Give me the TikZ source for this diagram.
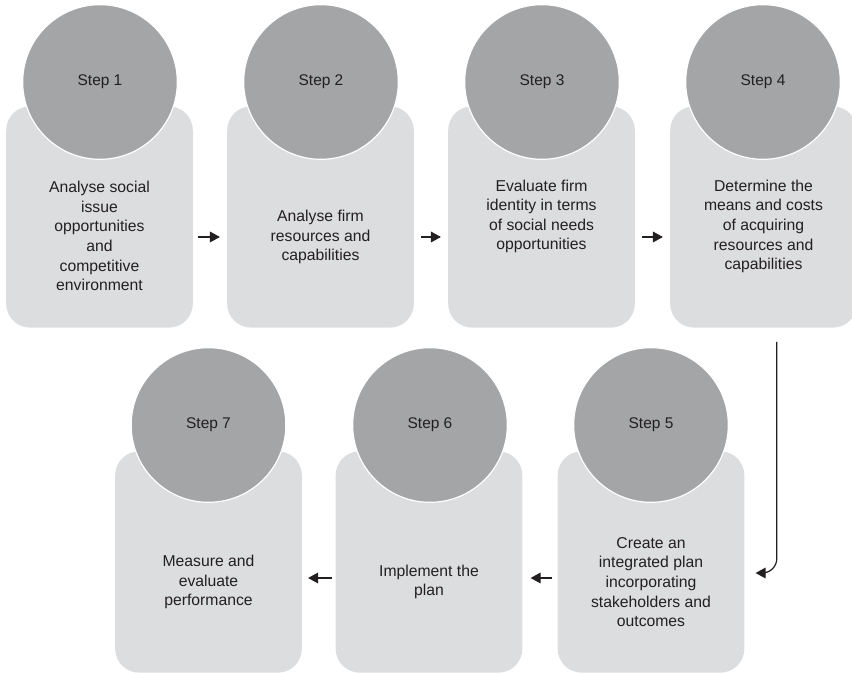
\documentclass[tikz,border=0pt]{standalone}
\usepackage{fontspec}
\setmainfont{Liberation Sans}
\usetikzlibrary{arrows.meta}

\definecolor{stepgray}{HTML}{A3A5A7}
\definecolor{boxgray}{HTML}{DCDDDF}
\definecolor{inkgray}{HTML}{231F20}

\tikzset{
  stepbox/.style={rectangle,rounded corners=18pt,fill=boxgray,minimum width=140pt,minimum height=166pt,inner sep=0pt},
  stepdisc/.style={circle,fill=stepgray,draw=white,line width=0.9pt,minimum size=116pt,inner sep=0pt,text=inkgray,font=\fontsize{11.6}{13}\selectfont},
  steptext/.style={text=inkgray,align=center,font=\fontsize{11.8}{14.7}\selectfont},
  flow/.style={draw=inkgray,line width=0.9pt,-{Triangle[length=7.5pt,width=8pt]}}
}

\begin{document}
\begin{tikzpicture}[x=0.75pt,y=-0.75pt]
\useasboundingbox (0,0) rectangle (852,673);

% boxes:
\path (99.5,217) node[stepbox] (b1) {};
\path (320.5,217) node[stepbox] (b2) {};
\path (541.5,217) node[stepbox] (b3) {};
\path (763.5,217) node[stepbox] (b4) {};
\path (651,562) node[stepbox] (b5) {};
\path (429,562) node[stepbox] (b6) {};
\path (208.5,562) node[stepbox] (b7) {};

% discs on top:
\path (100,82) node[stepdisc] (c1) {Step 1};
\path (321,82) node[stepdisc] (c2) {Step 2};
\path (542,82) node[stepdisc] (c3) {Step 3};
\path (763,82) node[stepdisc] (c4) {Step 4};
\path (651,425) node[stepdisc] (c5) {Step 5};
\path (430,425) node[stepdisc] (c6) {Step 6};
\path (208.5,425) node[stepdisc] (c7) {Step 7};

% texts:
\path (99.5,236) node[steptext] (t1) {Analyse social\\issue\\opportunities\\and\\competitive\\environment};
\path (320.5,237) node[steptext] (t2) {Analyse firm\\resources and\\capabilities};
\path (541.5,216.5) node[steptext] (t3) {Evaluate firm\\identity in terms\\of social needs\\opportunities};
\path (763.5,226.5) node[steptext] (t4) {Determine the\\means and costs\\of acquiring\\resources and\\capabilities};
\path (651,582) node[steptext] (t5) {Create an\\integrated plan\\incorporating\\stakeholders and\\outcomes};
\path (429,582) node[steptext] (t6) {Implement the\\plan};
\path (208.5,582) node[steptext] (t7) {Measure and\\evaluate\\performance};

% arrows:
\draw[flow] ([xshift=3.75pt,yshift=-15pt]b1.east) -- ([xshift=-5.25pt,yshift=-15pt]b2.west);
\draw[flow] ([xshift=5pt,yshift=-15pt]b2.east) -- ([xshift=-5.25pt,yshift=-15pt]b3.west);
\draw[flow] ([xshift=5pt,yshift=-15pt]b3.east) -- ([xshift=-5.25pt,yshift=-15pt]b4.west);
\draw[flow,rounded corners=11pt] ([xshift=10pt,yshift=-10.5pt]b4.south) |- ([xshift=8.25pt,yshift=-8.25pt]b5.east);
\draw[flow] ([xshift=-3.75pt,yshift=-12pt]b5.west) -- ([xshift=6pt,yshift=-12pt]b6.east);
\draw[flow] ([xshift=-2.25pt,yshift=-12pt]b6.west) -- ([xshift=4.5pt,yshift=-12pt]b7.east);

\end{tikzpicture}
\end{document}
